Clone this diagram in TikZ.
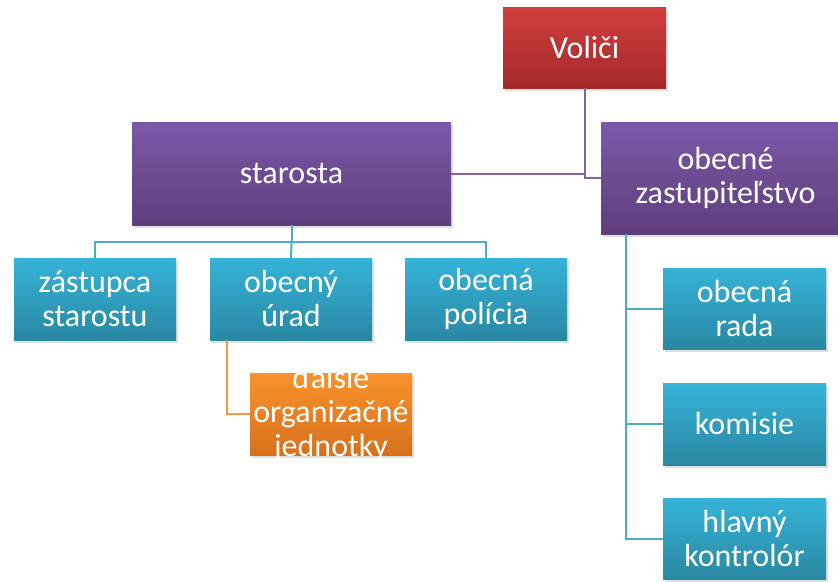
\documentclass[tikz,border=0pt]{standalone}
\usepackage{fontspec}
\setmainfont{Carlito}
\usetikzlibrary{positioning, shadows, calc}
\definecolor{redtop}{HTML}{D23E3E}
\definecolor{redbot}{HTML}{A32A2A}
\definecolor{purtop}{HTML}{7C59A8}
\definecolor{purbot}{HTML}{5E3E7D}
\definecolor{tealtop}{HTML}{36B3D8}
\definecolor{tealbot}{HTML}{2888A2}
\definecolor{orgtop}{HTML}{F9922B}
\definecolor{orgbot}{HTML}{D8701C}
\definecolor{purline}{HTML}{8064A2}
\definecolor{tealline}{HTML}{4BACC6}
\definecolor{orgline}{HTML}{F79646}

\begin{document}
\begin{tikzpicture}[x=1pt, y=-1pt,
    box/.style={rectangle, inner sep=0pt, text=white, align=center,
      font=\fontsize{32}{34}\selectfont,
      drop shadow={opacity=0.25, shadow xshift=2pt, shadow yshift=-3pt}},
    redbox/.style={box, top color=redtop, bottom color=redbot},
    purbox/.style={box, top color=purtop, bottom color=purbot},
    tealbox/.style={box, top color=tealtop, bottom color=tealbot,
      minimum width=162pt, minimum height=82pt},
    orgbox/.style={box, top color=orgtop, bottom color=orgbot,
      minimum width=162pt, minimum height=82pt},
    purconn/.style={draw=purline, line width=2pt},
    tealconn/.style={draw=tealline, line width=2pt},
    orgconn/.style={draw=orgline, line width=2pt}]
        \useasboundingbox (0,0) rectangle (838,581);

        % top of the chart
        \node[redbox, minimum width=163pt, minimum height=81pt] (voters) at (584.5,47.5) {Voliči};
        \node[purbox, minimum width=319pt, minimum height=103pt] (mayor) at (291.5,173.5) {starosta};
        \node[purbox, minimum width=249pt, minimum height=112pt] (council) at (725.5,178) {obecné\\zastupiteľstvo};

        % under the mayor
        \node[tealbox] (deputy) at (95,299) {zástupca\\starostu};
        \node[tealbox] (office) at (291,299) {obecný\\úrad};
        \node[tealbox] (police) at (486,299) {obecná\\polícia};
        \node[orgbox] (units) at (331,414) {};
        \node[text=white, align=center, inner sep=0pt, font=\fontsize{32}{34}\selectfont] (unitstext) at (units.center) {ďalšie\\organizačné\\jednotky};

        % under the council
        \node[tealbox, minimum width=163pt, minimum height=81pt] (board) at (744.5,308.5) {obecná\\rada};
        \node[tealbox, minimum width=163pt, minimum height=82pt] (commissions) at (744.5,424) {komisie};
        \node[tealbox, minimum width=163pt, minimum height=81pt] (auditor) at (744.5,538.5) {hlavný\\kontrolór};

        % connectors
        \draw[purconn] (voters.south) |- (council.west);
        \draw[purconn] (mayor.east) -- (mayor.east -| voters.south);
        \draw[tealconn] (mayor.south) -- ++(0,17) coordinate (mbar);
        \draw[tealconn] (deputy.north) |- (mbar) -| (police.north);
        \draw[tealconn] (mbar) -- (office.north);
        \draw[orgconn] ([xshift=-64pt]office.south) |- (units.west);
        \coordinate (cline) at ([xshift=25pt]council.south west);
        \draw[tealconn] (cline) |- (board.west);
        \draw[tealconn] (cline) |- (commissions.west);
        \draw[tealconn] (cline) |- (auditor.west);
    \end{tikzpicture}
\end{document}
